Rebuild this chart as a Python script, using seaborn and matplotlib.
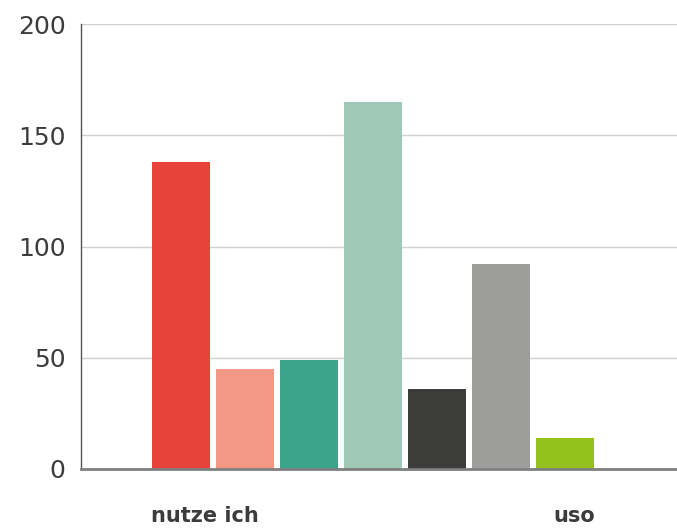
import matplotlib
matplotlib.use("Agg")
import matplotlib.pyplot as plt
import seaborn as sns
import pandas as pd

# data
bar_names = ["a", "b", "c", "d", "e", "f", "g"]
bar_values = [138, 45, 49, 165, 36, 92, 14]
bar_colors = ["#e8433b", "#f29884", "#3aa58a", "#9fc8b7", "#3c3c3a", "#9d9d9c", "#95c11f"]
label_text = ["nutze ich", "uso"]
label_pos = [0.38, 6.15]
y_ticks = [0, 50, 100, 150, 200]

df = pd.DataFrame({"name": bar_names, "value": bar_values})

sns.set_style("white")
fig = plt.figure(figsize=(6.77, 5.31), dpi=100)
ax = fig.add_axes([81 / 677, 62 / 531, 596 / 677, 445 / 531])

sns.barplot(data=df, x="name", y="value", hue="name", palette=bar_colors,
            width=0.906, legend=False, saturation=1, linewidth=0, ax=ax)

ax.set_ylim(0, 200)
ax.set_xlim(-1.56, 7.75)
ax.set_yticks(y_ticks)
ax.set_yticklabels([str(t) for t in y_ticks], fontsize=18, color="#3c3c3c")
ax.set_xticks(label_pos)
ax.set_xticklabels(label_text, fontsize=15, fontweight="bold", color="#3c3c3c")
ax.tick_params(axis="y", length=0, pad=11)
ax.tick_params(axis="x", length=0, pad=27)
ax.set_xlabel("")
ax.set_ylabel("")

ax.yaxis.grid(True, color="#d0d0d0", linewidth=1)
ax.set_axisbelow(True)
for s in ["top", "right"]:
    ax.spines[s].set_visible(False)
ax.spines["left"].set_color("#555555")
ax.spines["left"].set_linewidth(1)
ax.spines["bottom"].set_color("#808080")
ax.spines["bottom"].set_linewidth(2)

fig.savefig("out.png", dpi=100)
plt.close(fig)
